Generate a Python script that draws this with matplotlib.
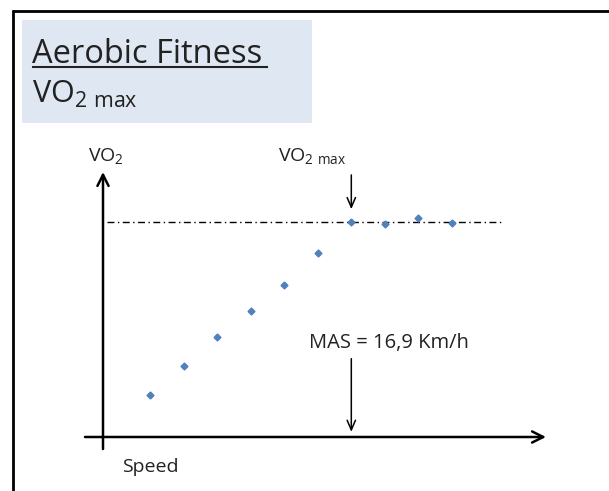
import matplotlib.pyplot as plt
from matplotlib.patches import Rectangle

plt.rcParams['font.family'] = ['Open Sans', 'DejaVu Sans']
plt.rcParams['mathtext.fontset'] = 'custom'
plt.rcParams['mathtext.rm'] = 'Open Sans'

# incremental test: speed stages (km/h) and measured VO2 (ml/kg/min)
speed = [10.9, 11.9, 12.9, 13.9, 14.9, 15.9, 16.9, 17.9, 18.9, 19.9]
vo2 = [28.2, 33.9, 39.5, 44.6, 49.7, 55.9, 62.0, 61.6, 62.8, 61.8]
mas = 16.9
vo2max = 62.0

W, H = 609, 491
fig = plt.figure(figsize=(W / 100, H / 100), dpi=100)

# layout layer in pixel units
lay = fig.add_axes([0, 0, 1, 1])
lay.set_xlim(0, W)
lay.set_ylim(H, 0)
lay.axis('off')

# data layer
ax = fig.add_axes([0, 0, 1, 1])
ax.set_xlim(6.43, 24.58)
ax.set_ylim(9.45, 105.37)
ax.axis('off')
ax.patch.set_alpha(0)

txt = '#222222'

# slide frame (top + left edges)
lay.plot([12, W], [11, 11], color='black', lw=2, solid_capstyle='butt')
lay.plot([13, 13], [10, H], color='black', lw=2, solid_capstyle='butt')

# title box
lay.add_patch(Rectangle((22, 20), 290, 103, facecolor='#dfe7f2', edgecolor='none'))
lay.text(32, 63, 'Aerobic Fitness', fontsize=23.5, color=txt, va='baseline')
lay.plot([33, 267], [67, 67], color=txt, lw=1.5)
lay.text(32, 103, r'VO$_{\mathrm{2\ max}}$', fontsize=22, color=txt, va='baseline')

# chart axes as arrows
arrow_kw = dict(arrowstyle='->,head_length=0.8,head_width=0.4', lw=1.8, color='black',
                shrinkA=0, shrinkB=0)
lay.annotate('', xy=(103, 172), xytext=(103, 449), arrowprops=arrow_kw)
lay.annotate('', xy=(546, 437), xytext=(85, 437), arrowprops=arrow_kw)
lay.text(88, 162, r'VO$_{\mathrm{2}}$', fontsize=14, color=txt, va='baseline')
lay.text(122, 472, 'Speed', fontsize=14, color=txt, va='baseline')

# VO2 max plateau line
ax.plot([9.62, 21.42], [vo2max, vo2max], color='black', lw=1,
        linestyle=(0, (5, 2.5, 1, 2.5)))

# measured points
ax.plot(speed, vo2, linestyle='none', marker='D', markersize=3.5,
        color='#4f81bd', markeredgecolor='#4f81bd')

thin_kw = dict(arrowstyle='->,head_length=0.7,head_width=0.3', lw=1.1, color='black',
               shrinkA=0, shrinkB=0)
ax.annotate('', xy=(mas, vo2max + 2.5), xytext=(mas, vo2max + 9.2), arrowprops=thin_kw)
ax.annotate('', xy=(mas, 21.0), xytext=(mas, 35.3), arrowprops=thin_kw)
lay.text(278, 162, r'VO$_{\mathrm{2\ max}}$', fontsize=14, color=txt, va='baseline')
lay.text(309, 348, 'MAS = 16,9 Km/h', fontsize=14.5, color=txt, va='baseline')

fig.savefig('out.png', dpi=100)
